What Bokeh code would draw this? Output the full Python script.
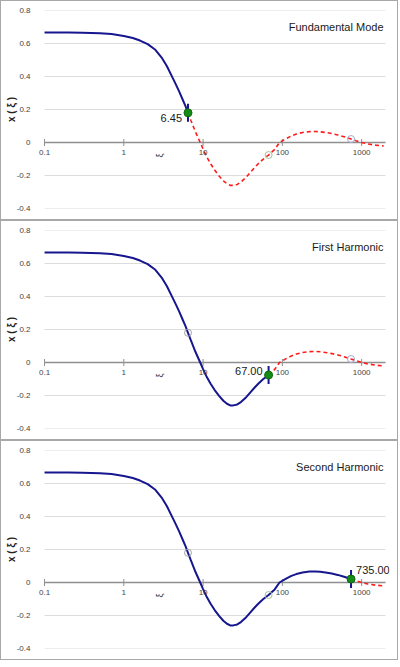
import math
from bokeh.plotting import figure
from bokeh.layouts import column
from bokeh.models import Range1d, FixedTicker, Label, LabelSet, ColumnDataSource
from bokeh.core.properties import value
from bokeh.embed import file_html
from bokeh.resources import INLINE

# ---- data ----
xi = [0.1, 0.2, 0.3, 0.5, 0.7, 1.0, 1.3, 1.6, 2.0, 2.5, 3.0, 3.5, 4.0, 4.5, 5.0,
      5.5, 6.0, 6.45, 7.0, 8.0, 9.2, 10, 11, 12.5, 14, 16, 18, 20, 22, 24, 27,
      30, 35, 40, 45, 50, 57, 67, 80, 92, 110, 130, 150, 180, 220, 260, 300,
      350, 420, 500, 600, 735, 850, 1000, 1200, 1500, 1900]
xval = [0.667, 0.666, 0.665, 0.662, 0.657, 0.646, 0.633, 0.618, 0.596, 0.562,
        0.515, 0.462, 0.405, 0.355, 0.308, 0.262, 0.22, 0.18, 0.135, 0.065,
        0.0, -0.04, -0.083, -0.13, -0.167, -0.204, -0.232, -0.25, -0.26,
        -0.26, -0.254, -0.24, -0.21, -0.178, -0.15, -0.127, -0.102, -0.076,
        -0.042, 0.0, 0.022, 0.04, 0.051, 0.061, 0.066, 0.067, 0.065, 0.061,
        0.054, 0.046, 0.035, 0.021, 0.011, 0.0, -0.009, -0.016, -0.021]

mode_names = ["Fundamental Mode", "First Harmonic", "Second Harmonic"]
mode_xi = [6.45, 67.00, 735.00]
mode_val = [0.18, -0.076, 0.021]
mode_labels = ["6.45", "67.00", "735.00"]

x_ticks = [0.1, 1, 10, 100, 1000]
x_tick_labels = ["0.1", "1", "10", "100", "1000"]
y_ticks = [-0.4, -0.2, 0, 0.2, 0.4, 0.6, 0.8]
y_tick_labels = ["-0.4", "-0.2", "0", "0.2", "0.4", "0.6", "0.8"]

# ---- styles ----
BLUE = "#16168f"
RED = "#ff1a1a"
GREEN = "#168a16"
OPEN_COLORS = ["#a3a3a3", "#a0c293", "#a8a8d0"]
# label placement per panel: (align, x_offset, y_offset)
LABEL_POS = [("right", -6, -5), ("right", -6, 4), ("left", 5, 9)]
FONT = "Liberation Sans"

X_START, X_END = 0.1, 2000          # extent of the plotted axis / gridlines
VIEW_START, VIEW_END = 0.0839, 2246  # small padding so edge labels are not clipped
Y_START, Y_END = -0.4, 0.8


def make_panel(i):
    p = figure(width=398, height=220, x_axis_type="log",
               x_range=Range1d(VIEW_START, VIEW_END), y_range=Range1d(Y_START, Y_END),
               output_backend="svg", toolbar_location=None,
               min_border_left=37, min_border_right=10,
               min_border_top=9, min_border_bottom=13,
               styles={"border": "1px solid #a8a8a8"})
    p.outline_line_color = None
    p.xaxis.visible = False
    p.xgrid.visible = False
    p.ygrid.visible = False
    p.yaxis.ticker = FixedTicker(ticks=y_ticks)
    p.yaxis.major_label_overrides = {t: l for t, l in zip(y_ticks, y_tick_labels)}
    p.yaxis.axis_line_color = None
    p.yaxis.major_tick_line_color = None
    p.yaxis.minor_tick_line_color = None
    p.yaxis.major_label_text_font_size = "8px"
    p.yaxis.major_label_text_font = FONT
    p.yaxis.major_label_text_color = "#444444"
    p.yaxis.major_label_standoff = 2
    p.yaxis.axis_label = "x ( ξ )"
    p.yaxis.axis_label_text_font = FONT
    p.yaxis.axis_label_text_font_style = "bold"
    p.yaxis.axis_label_text_font_size = "10px"
    p.yaxis.axis_label_text_color = "#222222"
    p.yaxis.axis_label_standoff = -3

    # horizontal gridlines (from 0.1 to 2000)
    n = len(y_ticks)
    p.segment(x0=[X_START] * n, y0=y_ticks, x1=[X_END] * n, y1=y_ticks,
              line_color="#dcdcdc", line_width=1)
    # zero axis line with ticks and labels
    p.segment(x0=[X_START], y0=[0], x1=[X_END], y1=[0],
              line_color="#8f8f8f", line_width=1.6)
    p.scatter(x_ticks, [0] * len(x_ticks), marker="dash", angle=math.pi / 2,
              size=7, line_color="#8f8f8f", line_width=1)
    src_t = ColumnDataSource(dict(x=x_ticks, y=[0] * len(x_ticks), t=x_tick_labels))
    p.add_layout(LabelSet(x="x", y="y", text="t", source=src_t, text_align="center",
                          text_baseline="top", y_offset=-7, text_font_size="8px",
                          text_font=value(FONT), text_color="#444444"))
    p.add_layout(Label(x=2.9, y=0, y_offset=-11, text="ξ", angle=math.pi / 2,
                       text_align="right", text_baseline="middle", text_font_size="9px",
                       text_font=FONT, text_color="#333333"))

    end = mode_xi[i]
    sx = [a for a in xi if a <= end]
    sy = [b for a, b in zip(xi, xval) if a <= end]
    dx = [a for a in xi if a >= end]
    dy = [b for a, b in zip(xi, xval) if a >= end]
    p.line(sx, sy, line_color=BLUE, line_width=2)
    p.line(dx, dy, line_color=RED, line_width=1.6, line_dash="4 3")

    for j in range(3):
        if j != i:
            p.scatter([mode_xi[j]], [mode_val[j]], marker="circle", size=7,
                      fill_color=None, line_color=OPEN_COLORS[j], line_width=1)

    p.scatter([mode_xi[i]], [mode_val[i]], marker="dash", angle=math.pi / 2,
              size=18, line_color=BLUE, line_width=2)
    p.scatter([mode_xi[i]], [mode_val[i]], marker="circle", size=8,
              fill_color=GREEN, line_color="#0d6b0d", line_width=1)

    align, xo, yo = LABEL_POS[i]
    p.add_layout(Label(x=mode_xi[i], y=mode_val[i], x_offset=xo, y_offset=yo,
                       text=mode_labels[i], text_align=align, text_baseline="middle",
                       text_font_size="11px", text_font=FONT,
                       text_color="#1a1a1a"))
    p.add_layout(Label(x=X_END, y=0.70, x_offset=-2, text=mode_names[i],
                       text_align="right", text_baseline="middle",
                       text_font_size="11px", text_font=FONT,
                       text_color="#1a1a1a"))
    return p


layout = column(*[make_panel(i) for i in range(3)], spacing=0)
open("out.html", "w").write(file_html(layout, INLINE))
